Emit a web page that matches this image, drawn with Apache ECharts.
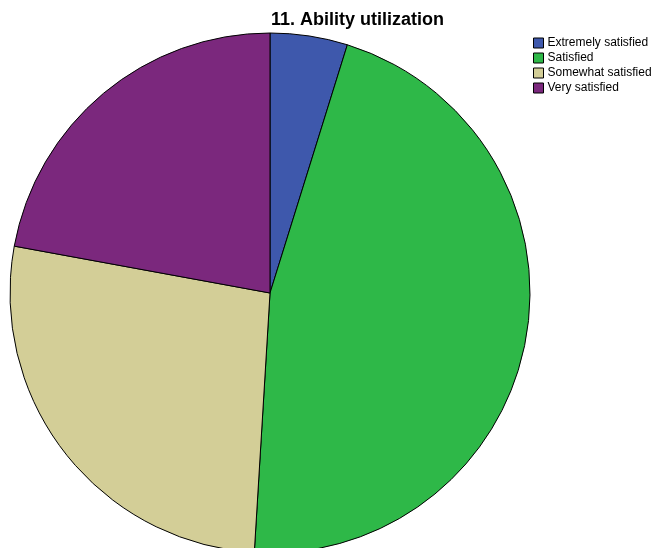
<!DOCTYPE html>
<html>
<head>
<meta charset="utf-8">
<script src="https://cdn.jsdelivr.net/npm/echarts@6/dist/echarts.min.js"></script>
<style>
  html, body { margin: 0; padding: 0; background: #ffffff; }
  #chart { width: 656px; height: 548px; }
</style>
</head>
<body>
<div id="chart"></div>
<script>
// Response counts for "Ability utilization"
const categories = ['Extremely satisfied', 'Satisfied', 'Somewhat satisfied', 'Very satisfied'];
const counts = [5, 48, 28, 23];
const colors = ['#3e58ac', '#2eb848', '#d3ce97', '#7b287d'];

const chart = echarts.init(document.getElementById('chart'), null, { renderer: 'canvas' });

chart.setOption({
  animation: false,
  backgroundColor: '#ffffff',
  title: {
    text: '11. Ability utilization',
    left: 266,
    top: 6,
    textStyle: {
      fontFamily: 'Liberation Sans, Arial, sans-serif',
      fontWeight: 'bold',
      fontSize: 18,
      color: '#000000'
    }
  },
  legend: {
    orient: 'vertical',
    left: 533,
    top: 37,
    padding: 0,
    itemWidth: 10,
    itemHeight: 10,
    itemGap: 3,
    icon: 'rect',
    itemStyle: { borderColor: '#000000', borderWidth: 1 },
    textStyle: {
      fontFamily: 'Liberation Sans, Arial, sans-serif',
      fontSize: 12,
      color: '#000000',
      padding: [0, 0, 0, -1]
    },
    data: categories
  },
  series: [{
    type: 'pie',
    center: [270, 293],
    radius: 260,
    startAngle: 90,
    clockwise: true,
    label: { show: false },
    labelLine: { show: false },
    emphasis: { disabled: true },
    itemStyle: { borderColor: '#000000', borderWidth: 1 },
    data: categories.map((name, i) => ({
      name,
      value: counts[i],
      itemStyle: { color: colors[i] }
    }))
  }]
});
</script>
</body>
</html>
